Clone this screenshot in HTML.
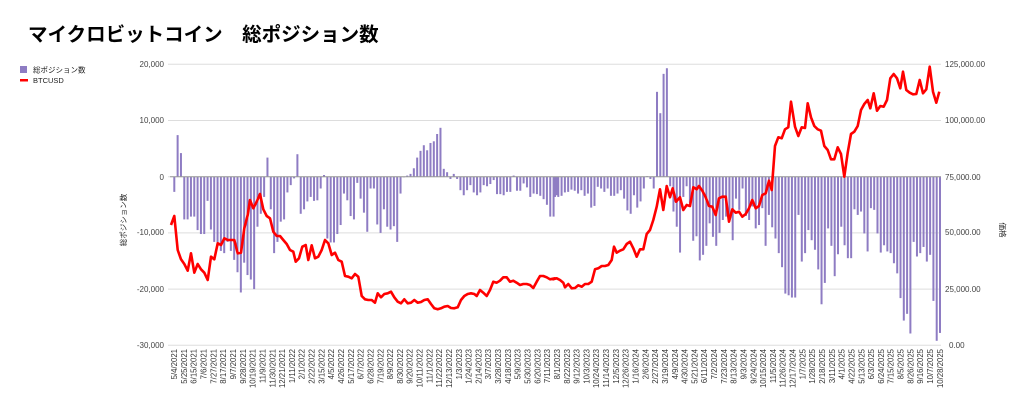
<!DOCTYPE html>
<html><head><meta charset="utf-8"><style>
html,body{margin:0;padding:0;background:#fff;}
svg{display:block;font-family:"Liberation Sans","Noto Sans CJK JP",sans-serif;}
</style></head><body>
<svg id="s" width="1024" height="409" viewBox="0 0 1024 409" xmlns="http://www.w3.org/2000/svg">
<text x="28" y="41" font-size="19.5" font-weight="bold" fill="#000">マイクロビットコイン　総ポジション数</text>
<rect x="20" y="66" width="7" height="7" fill="#8e7cc3"/>
<text x="33" y="72.5" font-size="7.5" fill="#222">総ポジション数</text>
<rect x="20" y="79" width="8" height="2.5" fill="#ff0000"/>
<text x="33" y="83" font-size="7.5" fill="#222">BTCUSD</text>
<g id="grid" stroke="#dddddd" stroke-width="1"></g>
<g font-size="8" fill="#444" text-anchor="end">
<text x="164" y="67">20,000</text><text x="164" y="123">10,000</text><text x="164" y="180">0</text>
<text x="164" y="235">-10,000</text><text x="164" y="292">-20,000</text><text x="164" y="348">-30,000</text>
</g>
<g font-size="8" fill="#444">
<text x="945" y="67">125,000.00</text><text x="945" y="123">100,000.00</text><text x="945" y="180">75,000.00</text>
<text x="945" y="235">50,000.00</text><text x="945" y="292">25,000.00</text><text x="949" y="348">0.00</text>
</g>
<text font-size="7.5" fill="#222" text-anchor="middle" transform="translate(126,220) rotate(-90)">総ポジション数</text>
<text font-size="7.5" fill="#222" text-anchor="middle" transform="translate(1000,230) rotate(90)">価格</text>
<g id="bars" fill="#8e7cc3"></g>
<line x1="170" y1="176.7" x2="941" y2="176.7" stroke="#999" stroke-width="1"/>
<polyline id="btc" fill="none" stroke="#ff0000" stroke-width="2.6" stroke-linejoin="round"/>
<g id="lbl" font-size="7.8" fill="#333" text-anchor="end">
<text>5/4/2021</text><text>5/25/2021</text><text>6/15/2021</text><text>7/6/2021</text><text>7/27/2021</text><text>8/17/2021</text><text>9/7/2021</text><text>9/28/2021</text><text>10/19/2021</text><text>11/9/2021</text><text>11/30/2021</text><text>12/21/2021</text><text>1/11/2022</text><text>2/1/2022</text><text>2/22/2022</text><text>3/15/2022</text><text>4/5/2022</text><text>4/26/2022</text><text>5/17/2022</text><text>6/7/2022</text><text>6/28/2022</text><text>7/19/2022</text><text>8/9/2022</text><text>8/30/2022</text><text>9/20/2022</text><text>10/11/2022</text><text>11/1/2022</text><text>11/22/2022</text><text>12/13/2022</text><text>1/3/2023</text><text>1/24/2023</text><text>2/14/2023</text><text>3/7/2023</text><text>3/28/2023</text><text>4/18/2023</text><text>5/9/2023</text><text>5/30/2023</text><text>6/20/2023</text><text>7/11/2023</text><text>8/1/2023</text><text>8/22/2023</text><text>9/12/2023</text><text>10/3/2023</text><text>10/24/2023</text><text>11/14/2023</text><text>12/5/2023</text><text>12/26/2023</text><text>1/16/2024</text><text>2/6/2024</text><text>2/27/2024</text><text>3/19/2024</text><text>4/9/2024</text><text>4/30/2024</text><text>5/21/2024</text><text>6/11/2024</text><text>7/2/2024</text><text>7/23/2024</text><text>8/13/2024</text><text>9/3/2024</text><text>9/24/2024</text><text>10/15/2024</text><text>11/5/2024</text><text>11/26/2024</text><text>12/17/2024</text><text>1/7/2025</text><text>1/28/2025</text><text>2/18/2025</text><text>3/11/2025</text><text>4/1/2025</text><text>4/22/2025</text><text>5/13/2025</text><text>6/3/2025</text><text>6/24/2025</text><text>7/15/2025</text><text>8/5/2025</text><text>8/26/2025</text><text>9/16/2025</text><text>10/7/2025</text><text>10/28/2025</text>
</g>
</svg>
<script>
var NS="http://www.w3.org/2000/svg";
var g=document.getElementById('grid');
[64.3,120.5,176.7,232.9,289.1,345.3].forEach(function(y){var l=document.createElementNS(NS,'line');l.setAttribute('x1',168);l.setAttribute('x2',941);l.setAttribute('y1',y);l.setAttribute('y2',y);g.appendChild(l);});
var A=[-2.7,7.4,4.2,-7.6,-7.6,-7.1,-7.1,-9.5,-10.2,-10.2,-4.3,-9.4,-11.6,-11.7,-13.2,-13.6,-11.6,-13.2,-14.8,-17,-20.6,-15.3,-17.5,-18.3,-20,-8.9,-6.6,-3.6,3.4,-5.8,-13.6,-11.6,-8,-7.6,-2.8,-1.5,-0.3,4,-6.6,-5.8,-4.4,-3.6,-4.3,-4.2,-2.1,0.3,-11,-11.7,-11.7,-10.2,-8.6,-3,-4.2,-7,-7.6,-1.1,-3.9,-6.4,-9.8,-2.1,-2.1,-8.5,-10,-5.8,-8.9,-9.4,-8.8,-11.6,-3,-0.1,0.2,0.5,1.5,3.4,4.6,5.6,4.7,6,6.3,7.6,8.7,1.4,0.8,-0.4,0.5,-0.4,-2.4,-3.3,-2.4,-1.5,-2.8,-3.3,-2.8,-1.5,-1.7,-1.3,-0.6,-3.1,-3.1,-3.3,-2.7,-2.7,0.2,-2.5,-2.5,-1.2,-1.9,-3.6,-3,-3.1,-3.4,-4,-5,-7.1,-7.1,-3.3];
var B=[-3.6,-3.6,-3.4,-2.8,-2.7,-2.3,-2.5,-3,-2.4,-3.4,-3,-5.5,-5.2,-1.8,-2.1,-2.7,-2.1,-3.4,-3.4,-3,-2.4,-3.9,-6,-6.6,-3.3,-5.5,-4.4,-2.1,0.1,-0.4,-2.1,15.1,11.3,18.3,19.3,-1.7,-6.2,-8.9,-13.5,-3.6,-1.7,-4.7,-11.4,-10.6,-14.9,-13.9,-12.3,-8.3,-10.7,-12.3,-10,-7.7,-7.1,-6.8,-11.3,-3.9,-5.9,-2.1,-7,-7.7,-5.3,-9.2,-8.6,-5.6,-12.3,-6.8,-9,-11,-13.6,-16.1,-20.8,-21.1,-21.5,-21.5,-6.8,-15.1,-13.6,-9.5,-11.3,-13,-16.5,-22.7,-18.9,-9.2,-12.3,-17.7,-13.8,-8.9,-12.2,-14.5,-14.5,-5.8,-6.8,-6.2,-10.1,-13.3,-5.6,-5.9,-10.1,-13.5,-12.2,-13.3,-13.6,-15.4,-17.2,-21.6,-25.6,-24.4,-27.9,-11.6,-14.2,-13.6,-12.5,-15.1,-13.9,-22.1,-29.2,-27.8];
var bg=document.getElementById('bars');var z=176.7,k=5.62;
function bar(x,v){var r=document.createElementNS(NS,'rect');var h=Math.abs(v)*k;r.setAttribute('x',x-1);r.setAttribute('width',2);r.setAttribute('y',v>0?z-h:z);r.setAttribute('height',Math.max(h,0.6));bg.appendChild(r);}
A.forEach(function(v,i){bar(174.3+i*3.327,v);});
var bx0=555;B.forEach(function(v,i){bar(bx0+i*(940-bx0)/(B.length-1),v);});
var P1=[[18,495],[28,468],[38,570],[48,598],[58,612],[68,632],[78,580],[88,638],[98,612],[108,628],[118,638],[128,660],[138,590],[148,598],[158,550],[168,555],[178,535],[188,540],[198,540],[208,540],[218,580],[228,578],[238,505],[248,465],[255,420],[265,445],[275,425],[285,402],[295,448],[305,468],[315,475],[325,515],[335,528],[345,528],[355,540],[365,552],[375,570],[385,575],[392,605],[402,595],[412,560],[422,555],[430,600],[440,556],[450,595],[460,590],[470,570],[480,540],[490,550],[500,585],[510,578],[520,600],[530,605],[540,648],[550,650],[560,655],[570,642],[580,650],[590,708],[600,718],[610,720],[620,720],[630,728],[638,700],[648,712],[658,702],[668,700],[678,695],[688,712],[698,725],[708,730],[718,718],[728,730],[738,728],[748,720],[758,728],[768,726],[778,720],[788,718],[798,732],[808,745],[818,748],[828,745],[838,740],[848,738],[858,744],[868,745],[878,742],[888,720],[898,708],[908,702],[918,700],[928,702],[935,708],[945,690],[955,698],[965,708],[975,690],[985,665],[995,668],[1005,662],[1015,652],[1025,652],[1035,665],[1045,662],[1055,668],[1065,675],[1075,672],[1085,672],[1095,675],[1105,684],[1115,665],[1125,648],[1135,648],[1145,652],[1155,658],[1170,655]];
var P2=[[10,658],[20,655],[30,660],[40,668],[45,682],[55,672],[65,685],[75,684],[85,676],[95,680],[105,672],[115,672],[125,665],[135,628],[145,625],[155,618],[165,618],[175,615],[185,600],[192,560],[200,578],[210,572],[220,568],[230,552],[240,545],[250,565],[260,590],[270,568],[280,568],[290,522],[300,510],[310,480],[320,440],[330,388],[340,450],[350,378],[360,412],[368,385],[378,425],[390,412],[400,450],[410,435],[420,438],[430,382],[440,388],[447,378],[457,392],[467,412],[477,438],[487,440],[497,465],[507,415],[517,410],[527,410],[537,485],[547,448],[557,458],[567,455],[577,470],[587,462],[597,445],[607,420],[617,445],[627,438],[637,405],[647,400],[657,362],[665,390],[675,258],[685,232],[695,235],[705,208],[715,202],[723,125],[735,200],[745,228],[755,202],[765,204],[773,130],[783,172],[793,198],[803,208],[813,212],[823,258],[833,270],[843,298],[853,298],[863,262],[873,282],[883,350],[893,278],[903,222],[913,215],[923,198],[933,150],[943,132],[953,120],[961,145],[971,100],[981,152],[991,138],[1001,140],[1011,120],[1021,55],[1031,42],[1041,55],[1051,85],[1059,35],[1069,90],[1079,98],[1089,103],[1099,102],[1109,60],[1119,100],[1129,88],[1139,20],[1149,95],[1159,128],[1168,95]];
var pts=P1.map(function(p){return (165+p[0]/3).toFixed(1)+','+(60+p[1]/3).toFixed(1);}).concat(P2.map(function(p){return (550+p[0]/3).toFixed(1)+','+(60+p[1]/3).toFixed(1);}));
document.getElementById('btc').setAttribute('points',pts.join(' '));
var ts=document.getElementById('lbl').getElementsByTagName('text');
for(var i=0;i<ts.length;i++){var x=174.3+i*(940-174.3)/78+2.8;ts[i].setAttribute('transform','translate('+x.toFixed(1)+',349) rotate(-90)');}
</script>
</body></html>
